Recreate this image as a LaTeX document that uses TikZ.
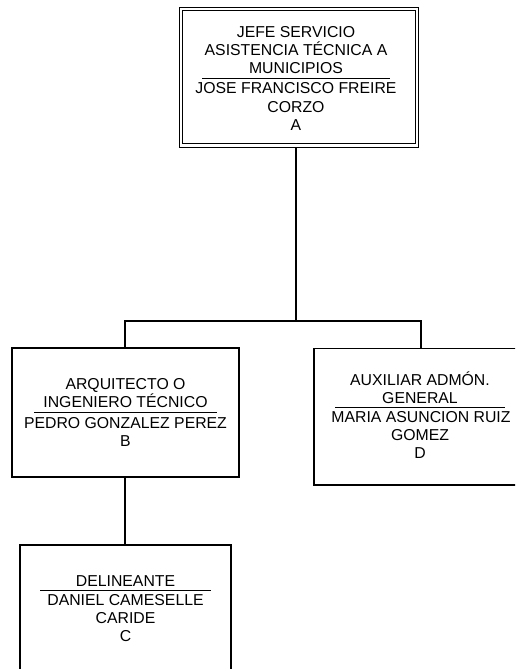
\documentclass[tikz,border=0pt]{standalone}
\usepackage{fontspec}
\setmainfont{Liberation Sans}
\begin{document}
\begin{tikzpicture}[x=1pt,y=-1pt,
  box/.style={draw, line width=1.3pt, inner sep=0pt, outer sep=0pt},
  dbox/.style={draw, double, double distance=2.3pt, line width=1.1pt, inner sep=0pt, outer sep=2.25pt},
  txt/.style={font=\fontsize{15.8}{18.3}\selectfont, inner sep=0pt, anchor=base},
  sep/.style={line width=1pt},
  conn/.style={line width=1.3pt}]
\useasboundingbox (0,0) rectangle (515,669);
\fill[white] (0,0) rectangle (515,669);
\clip (0,0) rectangle (515,669);
% boxes
\node[dbox, minimum width=235.8pt, minimum height=136.4pt] (A) at (298.9,77.4) {};
\node[box, minimum width=227pt, minimum height=129pt] (B) at (125.5,412.5) {};
\node[box, minimum width=211pt, minimum height=155pt] (C) at (125.5,622.5) {};
\node[box, minimum width=212pt, minimum height=136.5pt] (D) at (420,416.75) {};
% texts A
\node[txt] (A1) at (296,37.3) {JEFE SERVICIO};
\node[txt] (A2) at (296,55.6) {ASISTENCIA TÉCNICA A};
\node[txt] (A3) at (296,73.9) {MUNICIPIOS};
\draw[sep] (202,78.3) -- (390,78.3);
\node[txt] (A4) at (296,93.9) {JOSE FRANCISCO FREIRE};
\node[txt] (A5) at (296,112.2) {CORZO};
\node[txt] (A6) at (296,130.5) {A};
% texts B
\node[txt] (B1) at (125.5,389.3) {ARQUITECTO O};
\node[txt] (B2) at (125.5,407.3) {INGENIERO TÉCNICO};
\draw[sep] (34,412.3) -- (217,412.3);
\node[txt] (B3) at (125.5,428.3) {PEDRO GONZALEZ PEREZ};
\node[txt] (B4) at (125.5,446.8) {B};
% texts C
\node[txt] (C1) at (125.5,586) {DELINEANTE};
\draw[sep] (40,590) -- (211,590);
\node[txt] (C2) at (125.5,605) {DANIEL CAMESELLE};
\node[txt] (C3) at (125.5,623.3) {CARIDE};
\node[txt] (C4) at (125.5,641.6) {C};
% texts D
\node[txt] (D1) at (420,385.3) {AUXILIAR ADMÓN.};
\node[txt] (D2) at (420,403.6) {GENERAL};
\draw[sep] (335,407.3) -- (505,407.3);
\node[txt] (D3) at (421,422) {MARIA ASUNCION RUIZ};
\node[txt] (D4) at (420,440.3) {GOMEZ};
\node[txt] (D5) at (420,458.6) {D};
% connectors
\coordinate (hubA) at (296,321);
\coordinate (hubB) at (125,321);
\coordinate (hubD) at (421,321);
\draw[conn] (A.south -| hubA) -- (hubA);
\draw[conn] (B.north -| hubB) -- (hubB) -- (hubD) -- (D.north -| hubD);
\draw[conn] (B.south -| hubB) -- (C.north -| hubB);
\end{tikzpicture}
\end{document}
